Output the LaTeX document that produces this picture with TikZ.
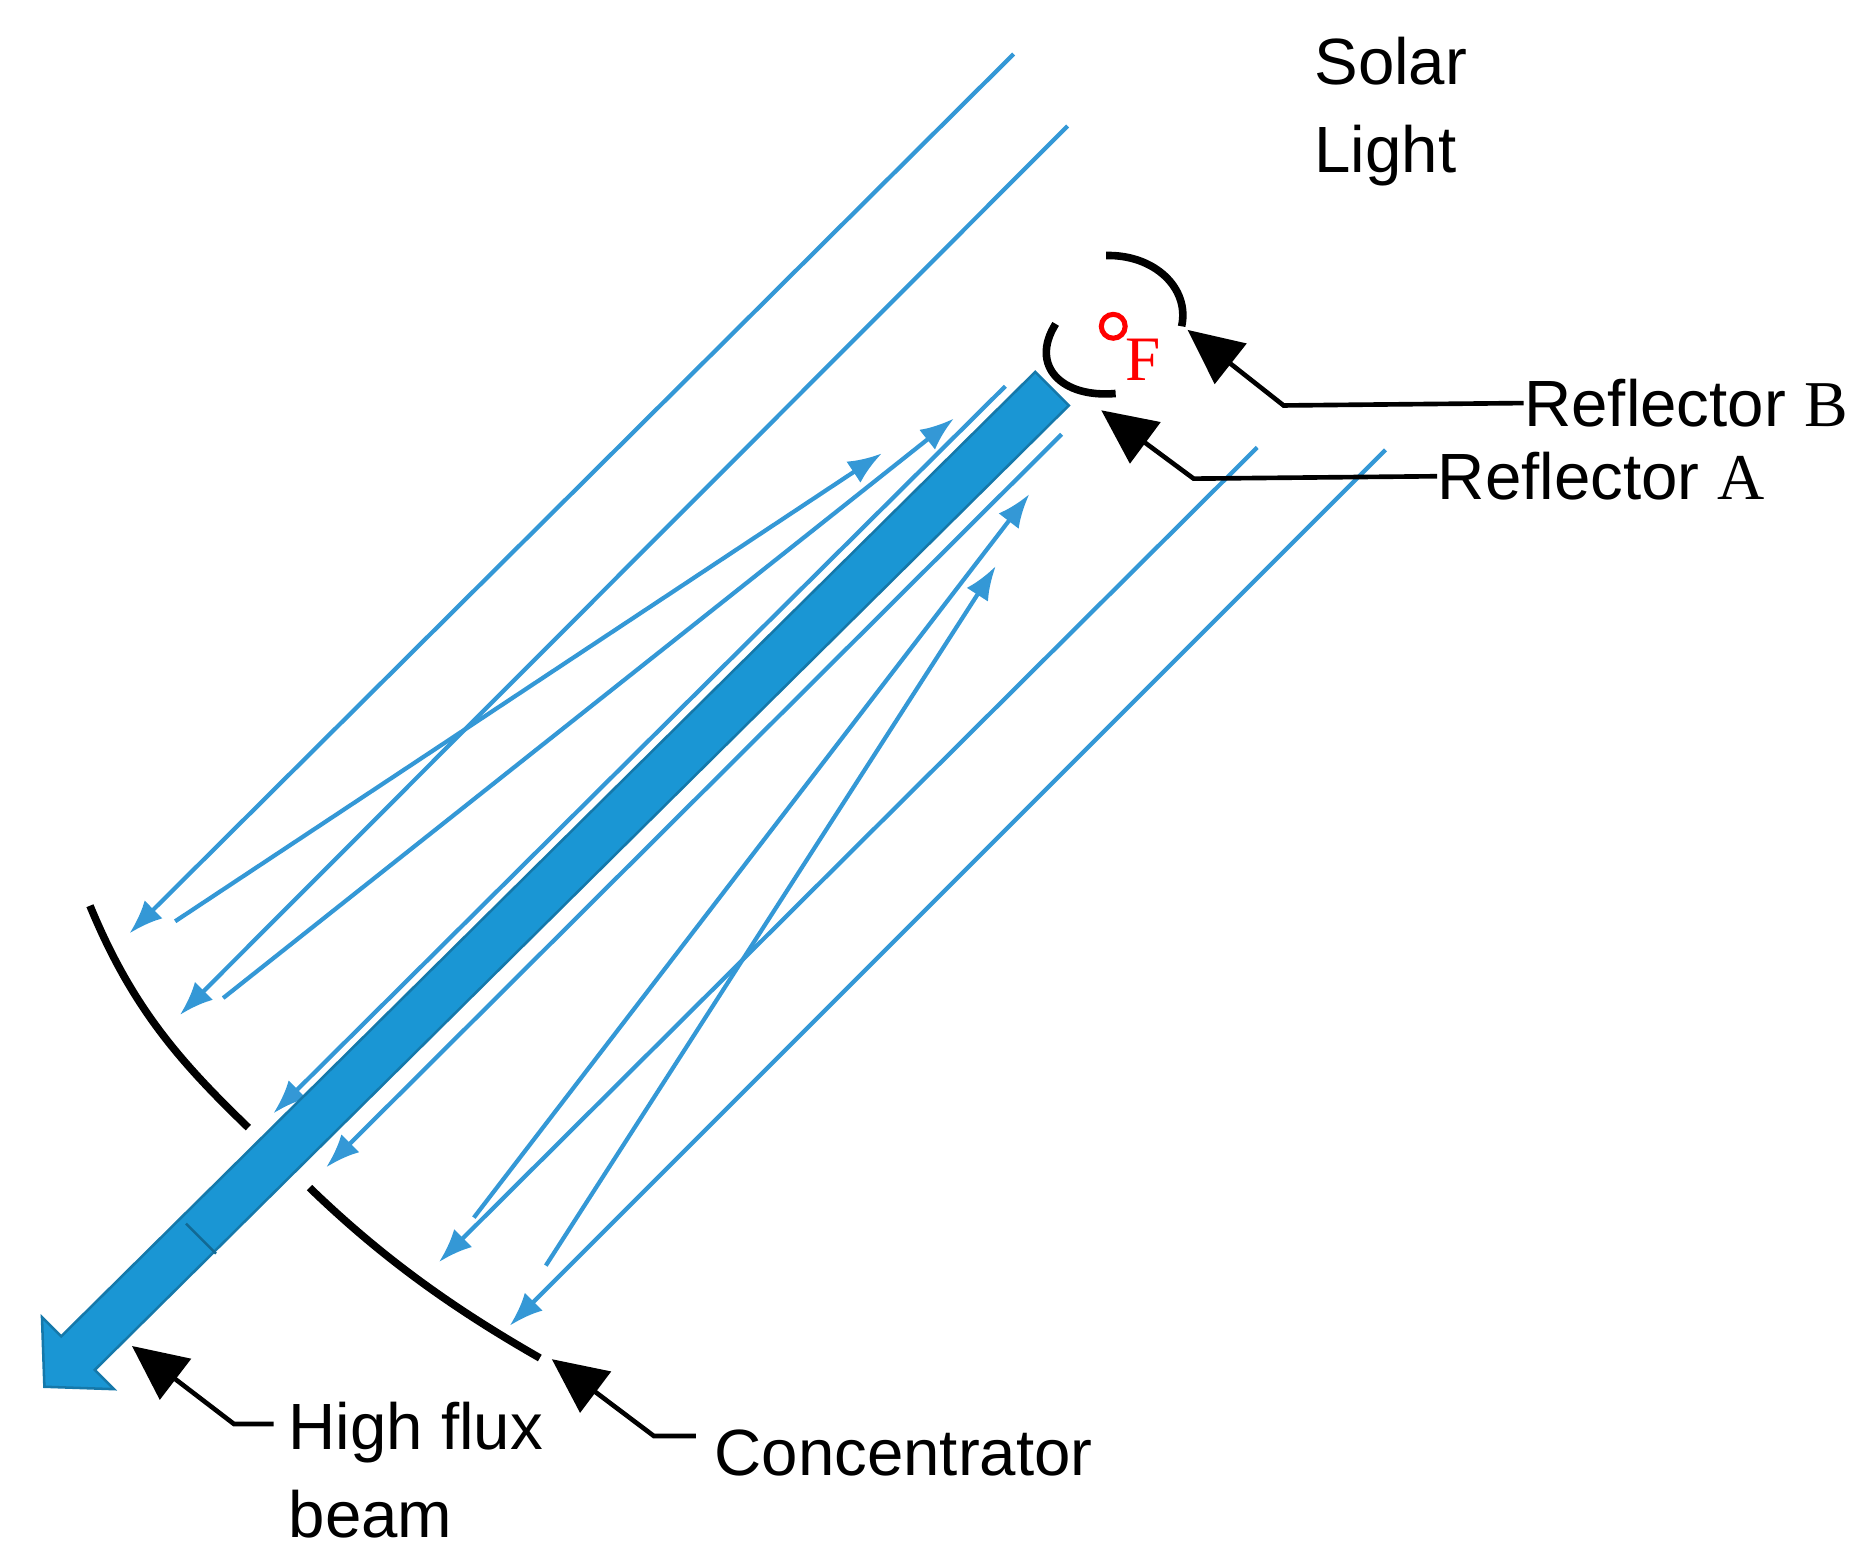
\documentclass[tikz,border=0pt]{standalone}
\usepackage{fontspec}
\setmainfont{Liberation Sans}
\newfontfamily\serifA{Liberation Serif}
\usetikzlibrary{arrows.meta}
\definecolor{rayblue}{RGB}{52,152,214}
\definecolor{beamblue}{RGB}{26,150,212}

\tikzset{
  ray/.style={color=rayblue, line width=1pt},
  rayarrow/.style={ray, -{Latex[length=8pt,width=6pt]}},
  mirror/.style={line width=1.8pt, black},
  pointer/.style={line width=1.1pt, -{Triangle[length=13pt,width=12pt]}},
  label/.style={font=\fontsize{15.5}{19}\selectfont, inner sep=0pt, anchor=west}
}

\begin{document}
\begin{tikzpicture}[x=0.01cm, y=-0.01cm]
\useasboundingbox (0,0) rectangle (1563,1294);

% incoming solar rays
\draw[rayarrow] (845,45) -- (108,778);
\draw[rayarrow] (890,105) -- (150,846);
\draw[rayarrow] (838,322) -- (228,928);
\draw[rayarrow] (885,362) -- (272,973);
\draw[rayarrow] (1048,373) -- (366,1052);
\draw[rayarrow] (1155,375) -- (425,1105);

% reflected rays
\draw[rayarrow] (146,768) -- (735,378);
\draw[rayarrow] (186,832) -- (795,349);
\draw[rayarrow] (395,1015) -- (858,412);
\draw[rayarrow] (455,1055) -- (830,472);

% high flux beam
\fill[beamblue, draw=beamblue!80!black, line width=0.6pt]
  (863,310) -- (891,338) -- (79,1142) -- (95,1158) -- (37,1156)
  -- (35,1098) -- (51,1114) -- cycle;
\draw[beamblue!70!black, line width=0.6pt] (155,1020) -- (180,1045);

% concentrator
\draw[mirror] (75,755) .. controls (110,840) and (150,885) .. (207,940);
\draw[mirror] (258,990) .. controls (320,1050) and (380,1092) .. (450,1132);

% reflectors and focus
\draw[mirror] (880,270) .. controls (858,305) and (885,332) .. (930,328);
\draw[mirror] (922,213) .. controls (962,212) and (992,240) .. (985,272);
\node (focus) [circle, draw=red, line width=1.2pt, inner sep=2pt] at (928,272) {};
\node (F) [text=red, font=\serifA\fontsize{15}{18}\selectfont] at (953,300) {F};

% labels
\node (solar) [label, align=left, anchor=north west] at (1095,30) {Solar\\[2pt]Light};
\node (refB) [label] at (1270,336) {Reflector {\serifA B}};
\node (refA) [label] at (1198,397) {Reflector {\serifA A}};
\node (flux) [label, align=left, anchor=north west] at (240,1168) {High flux\\[2pt]beam};
\node (conc) [label] at (595,1211) {Concentrator};

\coordinate (pB) at (990,275);
\coordinate (pA) at (918,342);
\coordinate (pF) at (110,1122);
\coordinate (pC) at (460,1133);

\draw[pointer] (refB.west) -- (1070,338) -- (pB);
\draw[pointer] (refA.west) -- (995,399) -- (pA);
\draw[pointer] (flux.north west) ++(-12,19) -- (195,1187) -- (pF);
\draw[pointer] (conc.west) ++(-15,-14) -- (545,1197) -- (pC);
\end{tikzpicture}
\end{document}
